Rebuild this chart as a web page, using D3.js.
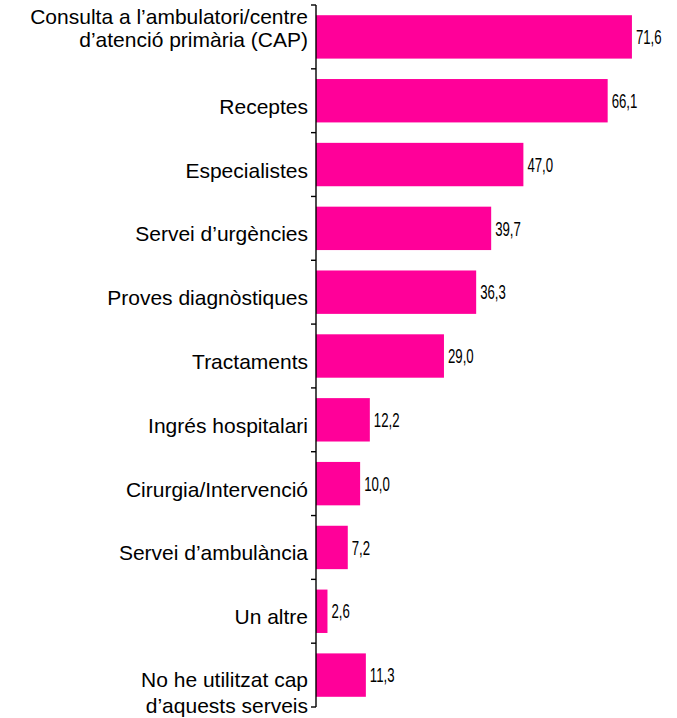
<!DOCTYPE html>
<html>
<head>
<meta charset="utf-8">
<script src="https://cdn.jsdelivr.net/npm/d3@7"></script>
<style>
  body { margin: 0; background: #fff; }
</style>
</head>
<body>
<div id="chart-area"></div>
<script>
const categories = [
  ['Consulta a l’ambulatori/centre', 'd’atenció primària (CAP)'],
  ['Receptes'],
  ['Especialistes'],
  ['Servei d’urgències'],
  ['Proves diagnòstiques'],
  ['Tractaments'],
  ['Ingrés hospitalari'],
  ['Cirurgia/Intervenció'],
  ['Servei d’ambulància'],
  ['Un altre'],
  ['No he utilitzat cap', 'd’aquests serveis']
];
const values = [71.6, 66.1, 47.0, 39.7, 36.3, 29.0, 12.2, 10.0, 7.2, 2.6, 11.3];

const width = 677, height = 718;

const svg = d3.select('#chart-area').append('svg')
  .attr('width', width)
  .attr('height', height);

const y = d3.scaleBand()
  .domain(d3.range(categories.length))
  .range([5, 707])
  .paddingInner(0.32)
  .paddingOuter(0.16);

const x = d3.scaleLinear()
  .domain([0, 80])
  .range([316, 669]);

const mid = i => y(i) + y.bandwidth() / 2;

// bars
svg.selectAll('rect.bar')
  .data(values)
  .enter()
  .append('rect')
  .attr('class', 'bar')
  .attr('x', x(0))
  .attr('y', (d, i) => y(i))
  .attr('width', d => x(d) - x(0))
  .attr('height', y.bandwidth())
  .attr('fill', '#ff0099');

// value labels (condensed)
svg.selectAll('text.value')
  .data(values)
  .enter()
  .append('text')
  .attr('class', 'value')
  .attr('transform', (d, i) => `translate(${x(d) + 4},${mid(i)}) scale(0.66,1)`)
  .attr('dy', '0.36em')
  .attr('font-family', 'Liberation Sans, Arial, sans-serif')
  .attr('font-size', 20)
  .attr('fill', '#000')
  .text(d => d.toFixed(1).replace('.', ','));

// axis line with ticks at band boundaries
const step = y.step();
const bounds = d3.range(categories.length + 1).map(i => y.range()[0] + i * step);
svg.append('line')
  .attr('x1', x(0)).attr('x2', x(0))
  .attr('y1', bounds[0]).attr('y2', bounds[bounds.length - 1])
  .attr('stroke', '#000').attr('stroke-width', 1.4);
svg.selectAll('line.tick')
  .data(bounds)
  .enter()
  .append('line')
  .attr('class', 'tick')
  .attr('x1', x(0) - 5).attr('x2', x(0))
  .attr('y1', d => d).attr('y2', d => d)
  .attr('stroke', '#000').attr('stroke-width', 1.4);

// category labels: sit a little below the bar centre,
// the top label is pushed up against the top edge
const labels = svg.selectAll('text.cat')
  .data(categories)
  .enter()
  .append('text')
  .attr('class', 'cat')
  .attr('text-anchor', 'end')
  .attr('font-family', 'Liberation Sans, Arial, sans-serif')
  .attr('font-size', 21)
  .attr('fill', '#000');

labels.each(function (d, i) {
  const t = d3.select(this);
  let first = 13, gap = 0;
  if (d.length > 1) {
    first = i === 0 ? -13 : 12;
    gap = i === 0 ? 23.5 : 26;
  }
  d.forEach((line, j) => {
    t.append('tspan')
      .attr('x', 308)
      .attr('y', mid(i) + first + j * gap)
      .text(line);
  });
});
</script>
</body>
</html>
